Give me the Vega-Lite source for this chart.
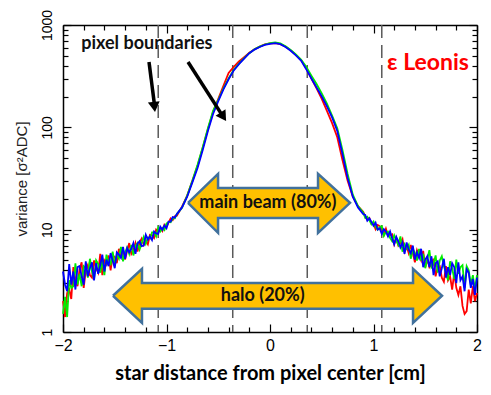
{
  "$schema": "https://vega.github.io/schema/vega-lite/v6.json",
  "width": 414,
  "height": 307,
  "autosize": {"type": "none"},
  "padding": {"left": 63, "top": 25, "right": 14, "bottom": 63},
  "background": "white",
  "config": {
    "view": {"stroke": null},
    "axis": {"grid": false, "domainColor": "black", "domainWidth": 1.5, "tickColor": "black", "tickWidth": 1.2, "labelColor": "black"}
  },
  "resolve": {"axis": {"x": "independent", "y": "independent"}},
  "datasets": {
    "curves": [
      {"x":-2.00,"r":2.0,"g":1.5,"b":3.9},
      {"x":-1.98,"r":1.4,"g":2.2,"b":2.9},
      {"x":-1.96,"r":2.4,"g":1.4,"b":2.5},
      {"x":-1.94,"r":2.6,"g":3.2,"b":4.6},
      {"x":-1.92,"r":2.1,"g":2.7,"b":2.9},
      {"x":-1.90,"r":4.3,"g":2.8,"b":3.9},
      {"x":-1.88,"r":3.3,"g":4.7,"b":2.6},
      {"x":-1.86,"r":2.8,"g":2.9,"b":4.3},
      {"x":-1.84,"r":4.1,"g":3.7,"b":4.4},
      {"x":-1.82,"r":4.8,"g":2.8,"b":3.5},
      {"x":-1.80,"r":2.7,"g":4.4,"b":2.9},
      {"x":-1.78,"r":4.0,"g":4.2,"b":4.9},
      {"x":-1.76,"r":4.5,"g":3.4,"b":3.5},
      {"x":-1.74,"r":3.6,"g":5.2,"b":4.2},
      {"x":-1.72,"r":3.4,"g":3.9,"b":4.8},
      {"x":-1.70,"r":5.0,"g":3.3,"b":3.2},
      {"x":-1.68,"r":4.2,"g":5.0,"b":4.7},
      {"x":-1.66,"r":3.8,"g":4.6,"b":3.7},
      {"x":-1.64,"r":5.8,"g":3.8,"b":4.5},
      {"x":-1.62,"r":3.6,"g":5.0,"b":5.7},
      {"x":-1.60,"r":5.0,"g":3.6,"b":3.9},
      {"x":-1.58,"r":4.6,"g":5.7,"b":5.1},
      {"x":-1.56,"r":5.6,"g":4.8,"b":4.4},
      {"x":-1.54,"r":4.0,"g":4.6,"b":5.9},
      {"x":-1.52,"r":5.6,"g":6.1,"b":5.0},
      {"x":-1.50,"r":5.4,"g":4.5,"b":4.2},
      {"x":-1.48,"r":4.7,"g":5.7,"b":6.0},
      {"x":-1.46,"r":6.5,"g":5.2,"b":5.7},
      {"x":-1.44,"r":5.3,"g":6.8,"b":5.3},
      {"x":-1.42,"r":6.4,"g":4.9,"b":6.8},
      {"x":-1.40,"r":5.1,"g":6.0,"b":5.2},
      {"x":-1.38,"r":6.2,"g":6.7,"b":6.6},
      {"x":-1.36,"r":7.4,"g":5.8,"b":6.0},
      {"x":-1.34,"r":5.8,"g":7.1,"b":6.5},
      {"x":-1.32,"r":6.3,"g":5.6,"b":7.4},
      {"x":-1.30,"r":7.4,"g":6.9,"b":5.8},
      {"x":-1.28,"r":6.1,"g":7.4,"b":7.3},
      {"x":-1.26,"r":7.5,"g":6.4,"b":7.7},
      {"x":-1.24,"r":8.2,"g":7.4,"b":6.9},
      {"x":-1.22,"r":7.1,"g":8.5,"b":7.0},
      {"x":-1.20,"r":7.8,"g":7.3,"b":8.9},
      {"x":-1.18,"r":7.2,"g":8.4,"b":8.0},
      {"x":-1.16,"r":8.9,"g":8.2,"b":8.6},
      {"x":-1.14,"r":8.8,"g":9.4,"b":7.9},
      {"x":-1.12,"r":8.3,"g":9.4,"b":9.6},
      {"x":-1.10,"r":10.0,"g":8.6,"b":9.2},
      {"x":-1.08,"r":9.5,"g":10.5,"b":9.1},
      {"x":-1.06,"r":10.3,"g":9.6,"b":10.7},
      {"x":-1.04,"r":9.7,"g":10.4,"b":10.0},
      {"x":-1.02,"r":11.2,"g":9.9,"b":11.0},
      {"x":-1.00,"r":10.7,"g":11.5,"b":10.3},
      {"x":-0.98,"r":11.7,"g":11.9,"b":12.0},
      {"x":-0.96,"r":12.9,"g":11.8,"b":12.0},
      {"x":-0.94,"r":12.4,"g":12.9,"b":13.3},
      {"x":-0.92,"r":13.5,"g":12.9,"b":13.1},
      {"x":-0.90,"r":13.7,"g":14.2,"b":14.2},
      {"x":-0.85,"r":16.8,"g":16.4,"b":16.5},
      {"x":-0.80,"r":21.5,"g":21.5,"b":21},
      {"x":-0.75,"r":30,"g":30,"b":29},
      {"x":-0.70,"r":42,"g":43,"b":40},
      {"x":-0.65,"r":63,"g":64,"b":60},
      {"x":-0.60,"r":96,"g":98,"b":92},
      {"x":-0.55,"r":142,"g":145,"b":135},
      {"x":-0.50,"r":190,"g":185,"b":180},
      {"x":-0.45,"r":255,"g":240,"b":235},
      {"x":-0.40,"r":340,"g":300,"b":295},
      {"x":-0.35,"r":390,"g":365,"b":360},
      {"x":-0.30,"r":440,"g":420,"b":415},
      {"x":-0.25,"r":485,"g":475,"b":470},
      {"x":-0.20,"r":535,"g":530,"b":530},
      {"x":-0.15,"r":580,"g":580,"b":575},
      {"x":-0.10,"r":615,"g":615,"b":610},
      {"x":-0.05,"r":645,"g":645,"b":640},
      {"x":0.00,"r":660,"g":665,"b":655},
      {"x":0.05,"r":665,"g":675,"b":665},
      {"x":0.10,"r":650,"g":660,"b":650},
      {"x":0.15,"r":615,"g":620,"b":610},
      {"x":0.20,"r":565,"g":570,"b":560},
      {"x":0.25,"r":510,"g":515,"b":505},
      {"x":0.30,"r":455,"g":460,"b":450},
      {"x":0.35,"r":380,"g":390,"b":370},
      {"x":0.40,"r":300,"g":320,"b":300},
      {"x":0.45,"r":240,"g":265,"b":245},
      {"x":0.50,"r":190,"g":215,"b":200},
      {"x":0.55,"r":145,"g":170,"b":160},
      {"x":0.60,"r":110,"g":130,"b":125},
      {"x":0.65,"r":80,"g":98,"b":92},
      {"x":0.70,"r":48,"g":60,"b":55},
      {"x":0.75,"r":30,"g":35,"b":32},
      {"x":0.80,"r":21,"g":22,"b":21},
      {"x":0.85,"r":17,"g":17,"b":16.5},
      {"x":0.90,"r":15.0,"g":14.7,"b":14.2},
      {"x":0.92,"r":13.4,"g":13.0,"b":13.9},
      {"x":0.94,"r":12.5,"g":13.4,"b":12.2},
      {"x":0.96,"r":13.0,"g":12.4,"b":12.9},
      {"x":0.98,"r":11.4,"g":11.3,"b":11.9},
      {"x":1.00,"r":11.5,"g":12.0,"b":10.9},
      {"x":1.02,"r":10.1,"g":10.7,"b":11.7},
      {"x":1.04,"r":11.1,"g":10.0,"b":10.0},
      {"x":1.06,"r":10.8,"g":10.6,"b":10.3},
      {"x":1.08,"r":9.8,"g":10.8,"b":9.1},
      {"x":1.10,"r":8.9,"g":8.7,"b":10.1},
      {"x":1.12,"r":10.2,"g":9.5,"b":9.6},
      {"x":1.14,"r":8.7,"g":9.6,"b":8.6},
      {"x":1.16,"r":8.8,"g":8.3,"b":9.6},
      {"x":1.18,"r":9.0,"g":7.7,"b":8.2},
      {"x":1.20,"r":7.2,"g":8.8,"b":7.2},
      {"x":1.22,"r":8.3,"g":7.8,"b":8.5},
      {"x":1.24,"r":7.0,"g":7.1,"b":7.7},
      {"x":1.26,"r":7.4,"g":8.6,"b":6.7},
      {"x":1.28,"r":8.1,"g":6.1,"b":7.5},
      {"x":1.30,"r":6.1,"g":7.2,"b":5.8},
      {"x":1.32,"r":6.9,"g":6.5,"b":7.5},
      {"x":1.34,"r":5.9,"g":7.1,"b":6.4},
      {"x":1.36,"r":7.1,"g":5.2,"b":5.9},
      {"x":1.38,"r":5.9,"g":6.5,"b":7.0},
      {"x":1.40,"r":4.8,"g":5.9,"b":5.1},
      {"x":1.42,"r":6.3,"g":5.0,"b":6.0},
      {"x":1.44,"r":5.6,"g":6.5,"b":5.3},
      {"x":1.46,"r":5.0,"g":5.0,"b":6.5},
      {"x":1.48,"r":6.2,"g":5.8,"b":4.3},
      {"x":1.50,"r":4.3,"g":4.2,"b":5.1},
      {"x":1.52,"r":5.1,"g":5.2,"b":5.5},
      {"x":1.54,"r":4.3,"g":6.3,"b":4.3},
      {"x":1.56,"r":4.6,"g":4.3,"b":5.5},
      {"x":1.58,"r":5.2,"g":4.6,"b":3.6},
      {"x":1.60,"r":3.5,"g":5.6,"b":4.7},
      {"x":1.62,"r":4.3,"g":3.8,"b":4.9},
      {"x":1.64,"r":4.4,"g":5.0,"b":3.5},
      {"x":1.66,"r":3.4,"g":5.5,"b":4.2},
      {"x":1.68,"r":3.1,"g":4.4,"b":5.2},
      {"x":1.70,"r":4.4,"g":3.8,"b":3.4},
      {"x":1.72,"r":3.2,"g":3.2,"b":4.3},
      {"x":1.74,"r":3.5,"g":4.9,"b":3.6},
      {"x":1.76,"r":2.6,"g":4.2,"b":4.7},
      {"x":1.78,"r":3.8,"g":3.3,"b":4.3},
      {"x":1.80,"r":2.7,"g":5.1,"b":3.0},
      {"x":1.82,"r":2.3,"g":3.7,"b":4.8},
      {"x":1.84,"r":2.8,"g":4.3,"b":3.2},
      {"x":1.86,"r":1.8,"g":4.5,"b":3.5},
      {"x":1.88,"r":1.5,"g":2.7,"b":2.5},
      {"x":1.90,"r":1.6,"g":4.4,"b":4.1},
      {"x":1.92,"r":2.6,"g":4.0,"b":3.8},
      {"x":1.94,"r":1.9,"g":2.9,"b":2.7},
      {"x":1.96,"r":2.8,"g":3.6,"b":3.3},
      {"x":1.98,"r":2.0,"g":2.6,"b":2.3},
      {"x":2.00,"r":2.4,"g":3.6,"b":3.4}
    ],
    "bounds": [{"x":-1.08},{"x":-0.36},{"x":0.36},{"x":1.08}],
    "beam": [
      {"i":1,"x":-0.792,"y":18.3},
      {"i":2,"x":-0.502,"y":35.1},
      {"i":3,"x":-0.502,"y":25.6},
      {"i":4,"x":0.464,"y":25.6},
      {"i":5,"x":0.464,"y":35.1},
      {"i":6,"x":0.773,"y":18.3},
      {"i":7,"x":0.464,"y":9.31},
      {"i":8,"x":0.464,"y":13.0},
      {"i":9,"x":-0.502,"y":13.0},
      {"i":10,"x":-0.502,"y":9.31},
      {"i":11,"x":-0.792,"y":18.3}
    ],
    "halo": [
      {"i":1,"x":-1.517,"y":2.26},
      {"i":2,"x":-1.237,"y":4.14},
      {"i":3,"x":-1.237,"y":3.02},
      {"i":4,"x":1.382,"y":3.02},
      {"i":5,"x":1.382,"y":4.14},
      {"i":6,"x":1.662,"y":2.26},
      {"i":7,"x":1.382,"y":1.23},
      {"i":8,"x":1.382,"y":1.69},
      {"i":9,"x":-1.237,"y":1.69},
      {"i":10,"x":-1.237,"y":1.23},
      {"i":11,"x":-1.517,"y":2.26}
    ],
    "pointers": [
      {"x":-1.169,"y":435,"x2":-1.116,"y2":165.5},
      {"x":-0.792,"y":435,"x2":-0.464,"y2":132.2}
    ]
  },
  "layer": [
    {
      "data": {"name": "bounds"},
      "mark": {"type": "rule", "strokeDash": [13, 7], "color": "#5a5a5a", "strokeWidth": 1.5},
      "encoding": {
        "x": {"field": "x", "type": "quantitative", "scale": {"domain": [-2, 2], "nice": false, "zero": false},
          "axis": {"orient": "bottom", "values": [-2, -1, 0, 1, 2], "ticks": false, "domain": true, "format": "d",
            "labelFont": "Liberation Sans", "labelFontSize": 16, "labelPadding": 5, "labelFlush": false,
            "title": "star distance from pixel center [cm]", "titleFont": "Lato", "titleFontWeight": "bold", "titleFontSize": 20, "titleColor": "black", "titlePadding": 10}}
      }
    },
    {
      "data": {"name": "curves"},
      "mark": {"type": "line", "color": "#ff0000", "strokeWidth": 1.8},
      "encoding": {
        "x": {"field": "x", "type": "quantitative", "scale": {"domain": [-2, 2], "nice": false, "zero": false},
          "axis": {"orient": "bottom", "values": [-2, -1, 0, 1, 2], "labels": false, "domain": false, "tickSize": -8, "title": null}},
        "y": {"field": "r", "type": "quantitative", "scale": {"type": "log", "domain": [1, 1000], "nice": false},
          "axis": {"orient": "left", "values": [1, 10, 100, 1000], "ticks": false, "domain": true, "format": "d",
            "labelAngle": -90, "labelAlign": "center", "labelBaseline": "bottom", "labelPadding": 9,
            "labelFont": "Liberation Sans", "labelFontSize": 14,
            "title": "variance [σ²ADC]", "titleFont": "Liberation Sans", "titleFontSize": 15, "titleFontWeight": "normal", "titleColor": "#222222", "titlePadding": 11}}
      }
    },
    {
      "data": {"name": "curves"},
      "mark": {"type": "line", "color": "#00ee00", "strokeWidth": 1.8},
      "encoding": {
        "x": {"field": "x", "type": "quantitative", "scale": {"domain": [-2, 2], "nice": false, "zero": false},
          "axis": {"orient": "bottom", "values": [-1.8,-1.6,-1.4,-1.2,-0.8,-0.6,-0.4,-0.2,0.2,0.4,0.6,0.8,1.2,1.4,1.6,1.8], "labels": false, "domain": false, "tickSize": -5, "title": null}},
        "y": {"field": "g", "type": "quantitative", "scale": {"type": "log", "domain": [1, 1000], "nice": false},
          "axis": {"orient": "left", "values": [1, 10, 100, 1000], "labels": false, "domain": false, "tickSize": -8, "title": null}}
      }
    },
    {
      "data": {"name": "curves"},
      "mark": {"type": "line", "color": "#0000ff", "strokeWidth": 1.8},
      "encoding": {
        "x": {"field": "x", "type": "quantitative", "scale": {"domain": [-2, 2], "nice": false, "zero": false},
          "axis": {"orient": "top", "values": [-2, -1, 0, 1, 2], "labels": false, "domain": true, "tickSize": -8, "title": null}},
        "y": {"field": "b", "type": "quantitative", "scale": {"type": "log", "domain": [1, 1000], "nice": false},
          "axis": {"orient": "left", "values": [2,3,4,5,6,7,8,9,20,30,40,50,60,70,80,90,200,300,400,500,600,700,800,900], "labels": false, "domain": false, "tickSize": -5, "title": null}}
      }
    },
    {
      "data": {"name": "beam"},
      "mark": {"type": "line", "fill": "#ffc000", "stroke": "#41719c", "strokeWidth": 2.5, "strokeJoin": "miter"},
      "encoding": {
        "x": {"field": "x", "type": "quantitative", "scale": {"domain": [-2, 2], "nice": false, "zero": false},
          "axis": {"orient": "top", "values": [-1.8,-1.6,-1.4,-1.2,-0.8,-0.6,-0.4,-0.2,0.2,0.4,0.6,0.8,1.2,1.4,1.6,1.8], "labels": false, "domain": false, "tickSize": -5, "title": null}},
        "y": {"field": "y", "type": "quantitative", "scale": {"type": "log", "domain": [1, 1000], "nice": false},
          "axis": {"orient": "right", "values": [1, 10, 100, 1000], "labels": false, "domain": true, "tickSize": -8, "title": null}},
        "order": {"field": "i", "type": "quantitative"}
      }
    },
    {
      "data": {"name": "halo"},
      "mark": {"type": "line", "fill": "#ffc000", "stroke": "#41719c", "strokeWidth": 2.5, "strokeJoin": "miter"},
      "encoding": {
        "x": {"field": "x", "type": "quantitative", "scale": {"domain": [-2, 2], "nice": false, "zero": false}, "axis": null},
        "y": {"field": "y", "type": "quantitative", "scale": {"type": "log", "domain": [1, 1000], "nice": false},
          "axis": {"orient": "right", "values": [2,3,4,5,6,7,8,9,20,30,40,50,60,70,80,90,200,300,400,500,600,700,800,900], "labels": false, "domain": false, "tickSize": -5, "title": null}},
        "order": {"field": "i", "type": "quantitative"}
      }
    },
    {
      "data": {"values": [{"label": "main beam (80%)", "x": -0.02, "y": 18.3}, {"label": "halo (20%)", "x": -0.07, "y": 2.26}]},
      "mark": {"type": "text", "font": "Lato", "fontWeight": "bold", "fontSize": 18, "color": "#111111", "align": "center", "baseline": "middle"},
      "encoding": {
        "x": {"field": "x", "type": "quantitative", "scale": {"domain": [-2, 2], "nice": false, "zero": false}, "axis": null},
        "y": {"field": "y", "type": "quantitative", "scale": {"type": "log", "domain": [1, 1000], "nice": false}, "axis": null},
        "text": {"field": "label"}
      }
    },
    {
      "data": {"values": [{"label": "pixel boundaries", "x": -1.19, "y": 652}]},
      "mark": {"type": "text", "font": "Lato", "fontWeight": "bold", "fontSize": 18, "color": "#111111", "align": "center", "baseline": "middle"},
      "encoding": {
        "x": {"field": "x", "type": "quantitative", "scale": {"domain": [-2, 2], "nice": false, "zero": false}, "axis": null},
        "y": {"field": "y", "type": "quantitative", "scale": {"type": "log", "domain": [1, 1000], "nice": false}, "axis": null},
        "text": {"field": "label"}
      }
    },
    {
      "data": {"values": [{"label": "ε Leonis", "x": 1.527, "y": 425}]},
      "mark": {"type": "text", "font": "Lato", "fontWeight": "bold", "fontSize": 23, "color": "#ff0000", "align": "center", "baseline": "middle"},
      "encoding": {
        "x": {"field": "x", "type": "quantitative", "scale": {"domain": [-2, 2], "nice": false, "zero": false}, "axis": null},
        "y": {"field": "y", "type": "quantitative", "scale": {"type": "log", "domain": [1, 1000], "nice": false}, "axis": null},
        "text": {"field": "label"}
      }
    },
    {
      "data": {"name": "pointers"},
      "mark": {"type": "rule", "color": "black", "strokeWidth": 3.5},
      "encoding": {
        "x": {"field": "x", "type": "quantitative", "scale": {"domain": [-2, 2], "nice": false, "zero": false}, "axis": null},
        "y": {"field": "y", "type": "quantitative", "scale": {"type": "log", "domain": [1, 1000], "nice": false}, "axis": null},
        "x2": {"field": "x2"},
        "y2": {"field": "y2"}
      }
    },
    {
      "data": {"values": [{"x": -1.117, "y": 158.2}]},
      "mark": {"type": "point", "shape": "triangle-up", "filled": true, "color": "black", "opacity": 1, "size": 140, "angle": 173},
      "encoding": {
        "x": {"field": "x", "type": "quantitative", "scale": {"domain": [-2, 2], "nice": false, "zero": false}, "axis": null},
        "y": {"field": "y", "type": "quantitative", "scale": {"type": "log", "domain": [1, 1000], "nice": false}, "axis": null}
      }
    },
    {
      "data": {"values": [{"x": -0.451, "y": 126.9}]},
      "mark": {"type": "point", "shape": "triangle-up", "filled": true, "color": "black", "opacity": 1, "size": 140, "angle": 147},
      "encoding": {
        "x": {"field": "x", "type": "quantitative", "scale": {"domain": [-2, 2], "nice": false, "zero": false}, "axis": null},
        "y": {"field": "y", "type": "quantitative", "scale": {"type": "log", "domain": [1, 1000], "nice": false}, "axis": null}
      }
    }
  ]
}
